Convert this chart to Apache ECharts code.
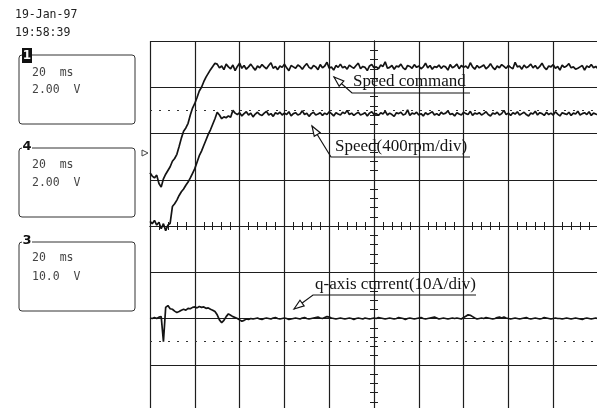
<!DOCTYPE html>
<html><head><meta charset="utf-8">
<script src="https://cdn.jsdelivr.net/npm/echarts/dist/echarts.min.js"></script>
<style>html,body{margin:0;padding:0;background:#fff}#c{width:597px;height:408px}</style>
</head><body><div id="c"></div>
<script>
// time axis: ms relative to screen centre, 20 ms/div, 1 sample per ms
const timeMs = [];
for (let t = -100; t <= 100; t++) timeMs.push(t);

// trace values in screen divisions (centre = 0)
const speedCommand = [
1.15,1.08,1.04,1.10,0.92,0.84,1.02,1.12,1.20,1.28,
1.40,1.46,1.55,1.72,1.90,2.05,2.12,2.22,2.40,2.55,
2.65,2.78,2.92,3.00,3.12,3.22,3.30,3.38,3.45,3.52,
3.50,
3.42,3.46,3.38,3.50,3.44,3.40,3.48,3.36,3.45,3.52,3.41,3.47,3.39,3.44,3.50,3.43,3.37,3.46,3.42,3.49,
3.44,3.40,3.47,3.53,3.41,3.45,3.38,3.46,3.43,3.50,3.42,3.36,3.47,3.44,3.41,3.48,3.45,3.39,3.46,3.51,
3.43,3.40,3.47,3.44,3.38,3.49,3.42,3.46,3.54,3.41,3.44,3.37,3.47,3.43,3.50,3.42,3.45,3.39,3.48,3.44,
3.41,3.47,3.52,3.40,3.45,3.43,3.36,3.46,3.49,3.42,3.44,3.40,3.48,3.45,3.55,3.41,3.43,3.47,3.39,3.46,
3.44,3.50,3.42,3.38,3.47,3.45,3.41,3.49,3.43,3.46,3.40,3.44,3.52,3.42,3.47,3.39,3.45,3.43,3.48,3.41,
3.46,3.44,3.37,3.49,3.42,3.45,3.50,3.40,3.47,3.43,3.46,3.41,3.53,3.44,3.39,3.47,3.42,3.45,3.48,3.40,
3.44,3.51,3.43,3.38,3.46,3.42,3.49,3.45,3.41,3.47,3.43,3.40,3.54,3.44,3.46,3.39,3.48,3.42,3.45,3.50,
3.42,3.47,3.40,3.45,3.52,3.43,3.38,3.46,3.44,3.49,3.41,3.45,3.37,3.48,3.43,3.46,3.51,3.42,3.44,3.39,
3.41,3.44,3.47,3.37,3.46,3.43,3.49,3.42,3.45,3.40
];
const speed = [
0.10,0.05,0.12,0.02,0.08,-0.06,0.05,-0.10,0.02,0.06,
0.42,0.48,0.56,0.66,0.74,0.80,0.88,0.95,1.04,1.14,
1.24,1.38,1.52,1.62,1.74,1.86,1.98,2.08,2.20,2.32,
2.46,2.40,2.32,2.36,2.34,2.38,2.35,2.50,2.44,
2.41,2.45,2.38,2.43,2.47,2.40,2.44,2.36,2.42,2.46,2.41,2.39,2.44,2.48,2.40,2.43,2.37,2.45,2.42,2.46,
2.40,2.44,2.41,2.47,2.38,2.43,2.45,2.40,2.42,2.49,2.41,2.44,2.37,2.43,2.46,2.40,2.42,2.45,2.39,2.44,
2.41,2.47,2.43,2.38,2.45,2.42,2.40,2.46,2.43,2.50,2.41,2.44,2.39,2.43,2.46,2.40,2.42,2.45,2.38,2.44,
2.47,2.41,2.43,2.39,2.45,2.42,2.48,2.40,2.44,2.41,2.37,2.45,2.43,2.46,2.40,2.42,2.51,2.39,2.44,2.42,
2.46,2.40,2.43,2.38,2.45,2.41,2.44,2.47,2.40,2.43,2.39,2.46,2.42,2.44,2.49,2.41,2.43,2.38,2.45,2.42,
2.40,2.46,2.43,2.41,2.48,2.39,2.44,2.42,2.45,2.40,2.43,2.47,2.41,2.38,2.44,2.42,2.46,2.40,2.43,2.50,
2.41,2.44,2.39,2.45,2.42,2.47,2.40,2.43,2.46,2.41,2.38,2.44,2.42,2.48,2.40,2.45,2.43,2.39,2.46,2.41,
2.44,2.40,2.47,2.42,2.38,2.45,2.43,2.41,2.46,2.39,2.44,2.42,2.48,2.40,2.43,2.45,2.41,2.47,2.39,2.44,
2.42,2.41
];
const qCurrent = [
-1.99,-2.00,-1.98,-2.00,-1.97,-1.96,-2.50,-1.76,-1.72,-1.79,
-1.80,-1.84,-1.87,-1.85,-1.82,-1.80,-1.82,-1.78,-1.79,-1.76,
-1.75,-1.77,-1.74,-1.76,-1.75,-1.78,-1.77,-1.80,-1.82,-1.85,
-1.92,-2.03,-2.09,-2.04,-1.96,-1.90,-1.93,-1.96,-1.98,-2.00,
-2.03,-2.06,-2.04,-2.01,-2.02,-2.00,
-2.01,-2.00,-1.99,-2.01,-2.02,-2.00,-1.99,-2.00,-2.01,-1.99,-1.98,-2.00,-2.01,-2.00,-1.99,-2.00,-2.02,-2.01,-2.00,-1.99,
-2.00,-2.01,-1.99,-1.98,-2.00,-2.01,-2.00,-1.99,-1.98,-1.97,-1.99,-2.00,-1.98,-1.96,-1.97,-1.99,-2.00,-2.01,-2.00,-1.99,
-2.00,-2.01,-2.00,-1.99,-2.00,-2.02,-2.00,-1.99,-2.00,-2.01,-1.99,-2.00,-2.01,-2.00,-1.99,-2.00,-1.98,-1.99,-2.00,-2.01,
-2.00,-1.99,-2.00,-2.01,-2.00,-1.98,-1.99,-2.00,-2.02,-2.00,-1.99,-2.00,-2.01,-2.00,-1.99,-1.98,-2.00,-2.01,-2.00,-1.99,
-1.98,-1.97,-1.99,-2.01,-2.00,-1.99,-2.00,-2.01,-2.00,-1.99,-2.00,-1.99,-2.00,-2.01,-1.98,-1.95,-1.92,-1.93,-1.96,-1.99,
-2.01,-2.00,-1.99,-2.00,-1.98,-1.99,-2.00,-2.01,-2.00,-1.98,-1.97,-1.99,-1.97,-1.99,-2.00,-2.01,-2.00,-1.99,-2.00,-2.01,
-2.00,-1.99,-1.98,-2.00,-2.01,-2.00,-1.99,-2.00,-2.01,-2.00,-1.98,-1.99,-2.00,-2.01,-2.00,-1.99,-2.00,-2.00,-2.01,-2.00,
-1.99,-2.00,-2.01,-2.00,-1.99,-2.00,-2.01,-2.02,-2.00,-1.99,-2.00,-2.01,-2.00,-1.99,-2.00
];
// dotted reference levels (divisions)
const refLevels = [2.5, -2.5];

// scope side panel text
const dateText = '19-Jan-97';
const clockText = '19:58:39';
const channelIds = ['1', '4', '3'];
const timeDivs = ['20  ms', '20  ms', '20  ms'];
const voltDivs = ['2.00  V', '2.00  V', '10.0  V'];

// annotation labels
const labelCommand = 'Speed command';
const labelSpeed = 'Speed(400rpm/div)';
const labelCurrent = 'q-axis current(10A/div)';

const toPairs = vals => vals.map((v, i) => [timeMs[i], v]);

const INK = '#141414';
const GRID = '#1e1e1e';
const serif = '17px "Liberation Serif", "Times New Roman", serif';
const mono = '11.5px "DejaVu Sans Mono", "Liberation Mono", monospace';

function arrowHead(tip, from, L, W) {
  const dx = tip[0] - from[0], dy = tip[1] - from[1];
  const len = Math.hypot(dx, dy);
  const ux = dx / len, uy = dy / len;
  const bx = tip[0] - ux * L, by = tip[1] - uy * L;
  const px = -uy, py = ux;
  return {
    type: 'polygon', z: 10,
    shape: { points: [tip, [bx + px * W / 2, by + py * W / 2], [bx - px * W / 2, by - py * W / 2]] },
    style: { fill: '#fff', stroke: INK, lineWidth: 1.2 }
  };
}
function annotation(tip, elbow, end, text, tx, ty) {
  return [
    { type: 'polyline', z: 10, shape: { points: [tip, elbow, end] }, style: { stroke: INK, lineWidth: 1.2, fill: null } },
    arrowHead(tip, elbow, 10, 7),
    { type: 'text', z: 10, x: tx, y: ty, style: { text: text, font: serif, fill: INK, verticalAlign: 'middle', align: 'left' } }
  ];
}
function panel(i, top, bottom, textY1, textY2) {
  const els = [
    { type: 'rect', shape: { x: 19, y: top, width: 116, height: bottom - top, r: 3 }, style: { fill: 'none', stroke: '#333', lineWidth: 1 } },
    { type: 'text', x: 32, y: textY1, style: { text: timeDivs[i], font: mono, fill: '#444', verticalAlign: 'middle' } },
    { type: 'text', x: 32, y: textY2, style: { text: voltDivs[i], font: mono, fill: '#444', verticalAlign: 'middle' } }
  ];
  if (i === 0) {
    els.push({ type: 'rect', z: 5, shape: { x: 22, y: top - 7, width: 10, height: 15 }, style: { fill: '#111' } });
    els.push({ type: 'text', z: 6, x: 27, y: top + 1, style: { text: channelIds[i], font: 'bold 12px "DejaVu Sans", sans-serif', fill: '#fff', align: 'center', verticalAlign: 'middle' } });
  } else {
    els.push({ type: 'rect', z: 5, shape: { x: 22, y: top - 7, width: 10, height: 13 }, style: { fill: '#fff' } });
    els.push({ type: 'text', z: 6, x: 27, y: top - 1, style: { text: channelIds[i], font: 'bold 13px "DejaVu Sans", sans-serif', fill: '#111', align: 'center', verticalAlign: 'middle' } });
  }
  return els;
}

const graphic = [].concat(
  [
    { type: 'text', x: 15, y: 15, style: { text: dateText, font: mono, fill: '#222', verticalAlign: 'middle' } },
    { type: 'text', x: 15, y: 33, style: { text: clockText, font: mono, fill: '#222', verticalAlign: 'middle' } },
    { type: 'polygon', shape: { points: [[142, 150], [148, 153], [142, 156]] }, style: { fill: '#fff', stroke: '#444', lineWidth: 1 } }
  ],
  panel(0, 55, 124, 73, 90),
  panel(1, 148, 217, 165, 183),
  panel(2, 242, 311, 258, 277),
  annotation([334, 77], [352, 93], [470, 93], labelCommand, 353, 82),
  annotation([312, 126], [331, 157], [470, 157], labelSpeed, 335, 147),
  annotation([294, 309], [313, 295], [476, 295], labelCurrent, 315, 285)
);

const axisLineStyle = { color: GRID, width: 1 };
function xAx(inside, primary) {
  return {
    type: 'value', min: -100, max: 100, interval: 20, position: 'bottom',
    axisLabel: { show: false },
    axisLine: { show: true, onZero: true, onZeroAxisIndex: 0, lineStyle: axisLineStyle },
    axisTick: { show: true, inside: inside, length: 4, lineStyle: axisLineStyle },
    minorTick: { show: true, splitNumber: 5, length: 4, lineStyle: axisLineStyle },
    splitLine: { show: primary, lineStyle: { color: GRID, width: 1.2 } }
  };
}
function yAx(inside, primary) {
  return {
    type: 'value', min: -4, max: 4, interval: 1, position: 'left',
    axisLabel: { show: false },
    axisLine: { show: true, onZero: true, onZeroAxisIndex: 0, lineStyle: axisLineStyle },
    axisTick: { show: true, inside: inside, length: 4, lineStyle: axisLineStyle },
    minorTick: { show: true, splitNumber: 5, length: 4, lineStyle: axisLineStyle },
    splitLine: { show: primary, lineStyle: { color: GRID, width: 1.2 } }
  };
}
const traceStyle = { color: INK, width: 1.7 };
function trace(name, vals, extra) {
  return Object.assign({
    name: name, type: 'line', xAxisIndex: 0, yAxisIndex: 0,
    data: toPairs(vals), showSymbol: false, symbol: 'none',
    lineStyle: traceStyle, itemStyle: { color: INK }, silent: true, z: 3
  }, extra || {});
}

const chart = echarts.init(document.getElementById('c'), null, { renderer: 'canvas' });
chart.setOption({
  animation: false,
  backgroundColor: '#fff',
  grid: { left: 150, top: 41, width: 448, height: 370, containLabel: false, outerBoundsMode: 'none' },
  xAxis: [xAx(false, true), xAx(true, false)],
  yAxis: [yAx(false, true), yAx(true, false)],
  series: [
    trace('Speed command', speedCommand, {
      markLine: {
        silent: true, symbol: 'none', label: { show: false }, animation: false,
        lineStyle: { color: '#333', type: [2, 7], width: 1 },
        data: refLevels.map(v => ({ yAxis: v }))
      }
    }),
    trace('Speed', speed),
    trace('q-axis current', qCurrent)
  ],
  graphic: graphic
});
</script>
</body></html>
